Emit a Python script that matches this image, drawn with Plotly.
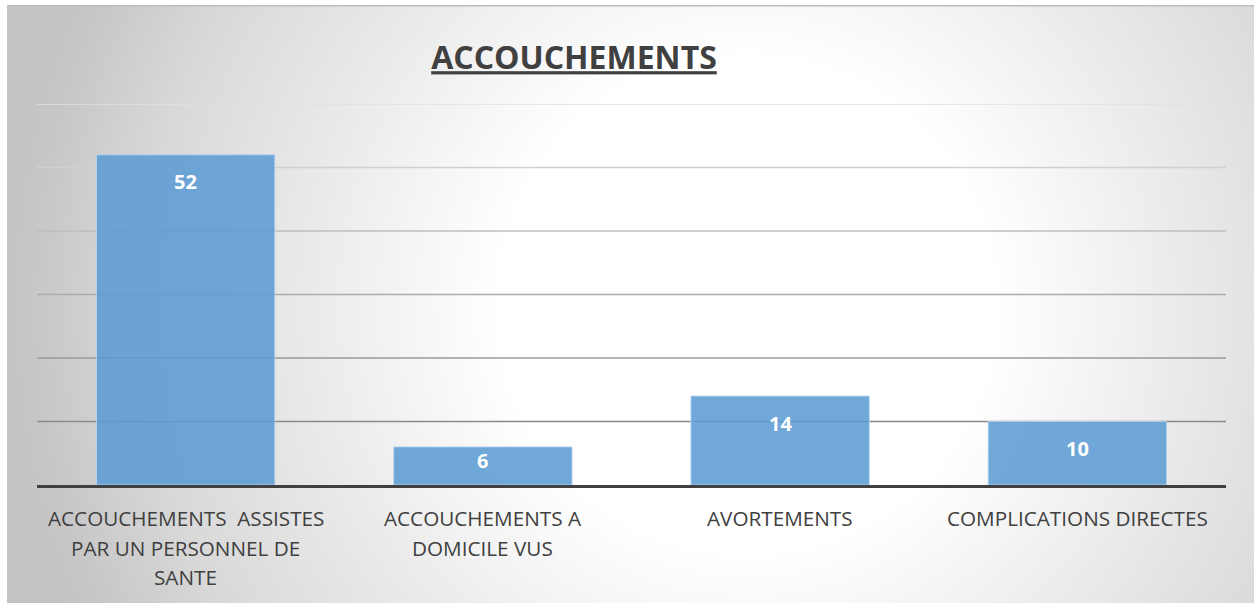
import base64
import plotly.graph_objects as go

# ---- data ----
categories = [
    "ACCOUCHEMENTS  ASSISTES PAR UN PERSONNEL DE SANTE",
    "ACCOUCHEMENTS A DOMICILE VUS",
    "AVORTEMENTS",
    "COMPLICATIONS DIRECTES",
]
category_lines = [
    ["ACCOUCHEMENTS  ASSISTES", "PAR UN PERSONNEL DE", "SANTE"],
    ["ACCOUCHEMENTS A", "DOMICILE VUS"],
    ["AVORTEMENTS"],
    ["COMPLICATIONS DIRECTES"],
]
values = [52, 6, 14, 10]
grid_values = [10, 20, 30, 40, 50, 60]
title_text = "ACCOUCHEMENTS"

# ---- geometry / style ----
W, H = 1254, 603
L, R, T, B = 37, 1226, 104, 485
YMAX = 60
FONT = "Open Sans"
TXT = "#404040"

# gradient background as svg
svg = f"""<svg xmlns='http://www.w3.org/2000/svg' width='1247' height='598' viewBox='0 0 1247 598'>
<defs><radialGradient id='g' gradientUnits='userSpaceOnUse' cx='740' cy='300' r='750'>
<stop offset='0' stop-color='#ffffff'/>
<stop offset='0.33' stop-color='#ffffff'/>
<stop offset='0.55' stop-color='#ededed'/>
<stop offset='0.8' stop-color='#d9d9d9'/>
<stop offset='0.95' stop-color='#c7c7c7'/>
<stop offset='1' stop-color='#c3c3c3'/>
</radialGradient></defs>
<rect x='0' y='0' width='1247' height='598' fill='url(#g)'/>
<line x1='0' y1='0.75' x2='1247' y2='0.75' stroke='#bdbdbd' stroke-width='1.5'/>
<line x1='0.5' y1='0' x2='0.5' y2='598' stroke='#c4c4c4' stroke-width='1'/>
</svg>"""
src = "data:image/svg+xml;base64," + base64.b64encode(svg.encode()).decode()

pw, ph = R - L, B - T

fig = go.Figure()
fig.add_trace(go.Bar(
    x=categories, y=values,
    marker=dict(color="rgba(91,155,213,0.87)",
                line=dict(color="rgba(185,212,238,0.9)", width=1)),
    width=0.6,
    hoverinfo="skip",
))

fig.add_layout_image(dict(
    source=src, xref="paper", yref="paper",
    x=(7 - L) / pw, y=(B - 5) / ph,
    sizex=1247 / pw, sizey=598 / ph,
    xanchor="left", yanchor="top", sizing="stretch", layer="below",
))

grid_colors = ["#8a8a8a", "#9a9a9a", "#acacac", "#bebebe", "#d0d0d0", "#e0e0e0"]
for gv, gc in zip(grid_values, grid_colors):
    fig.add_shape(type="line", xref="paper", x0=0, x1=1, yref="y", y0=gv, y1=gv,
                  line=dict(color=gc, width=1.3), layer="below")

annotations = []
for c, v in zip(categories, values):
    px = v * ph / YMAX
    shift = -27 if px > 54 else -px * 0.35
    annotations.append(dict(x=c, y=v, xref="x", yref="y", text=f"<b>{v}</b>",
                            showarrow=False, yanchor="middle", yshift=shift,
                            font=dict(family=FONT, size=20, color="white")))
for c, lines in zip(categories, category_lines):
    for i, ln in enumerate(lines):
        annotations.append(dict(x=c, y=0, xref="x", yref="y", text=ln,
                                showarrow=False, yanchor="middle",
                                yshift=-33 - i * 29.5,
                                font=dict(family=FONT, size=20.7, color=TXT)))

fig.update_layout(
    width=W, height=H,
    margin=dict(l=L, r=W - R, t=T, b=H - B, pad=0),
    paper_bgcolor="white", plot_bgcolor="rgba(0,0,0,0)",
    showlegend=False,
    bargap=0.4,
    title=dict(text=f"<b><u>{title_text}</u></b>", x=(574 - L) / pw, xref="paper",
               xanchor="center", y=1 - 58 / H, yref="container", yanchor="middle",
               font=dict(family=FONT, size=32, color=TXT)),
    xaxis=dict(showticklabels=False, showgrid=False, zeroline=False, ticks="",
               showline=True, linecolor="#404040", linewidth=3, fixedrange=True),
    yaxis=dict(range=[0, YMAX], showticklabels=False, showgrid=False, zeroline=False,
               ticks="", showline=False, fixedrange=True),
    annotations=annotations,
)

fig.write_html("out.html", config={"displayModeBar": False},
               post_script="document.body.style.margin='0px';document.body.style.overflow='hidden';")
